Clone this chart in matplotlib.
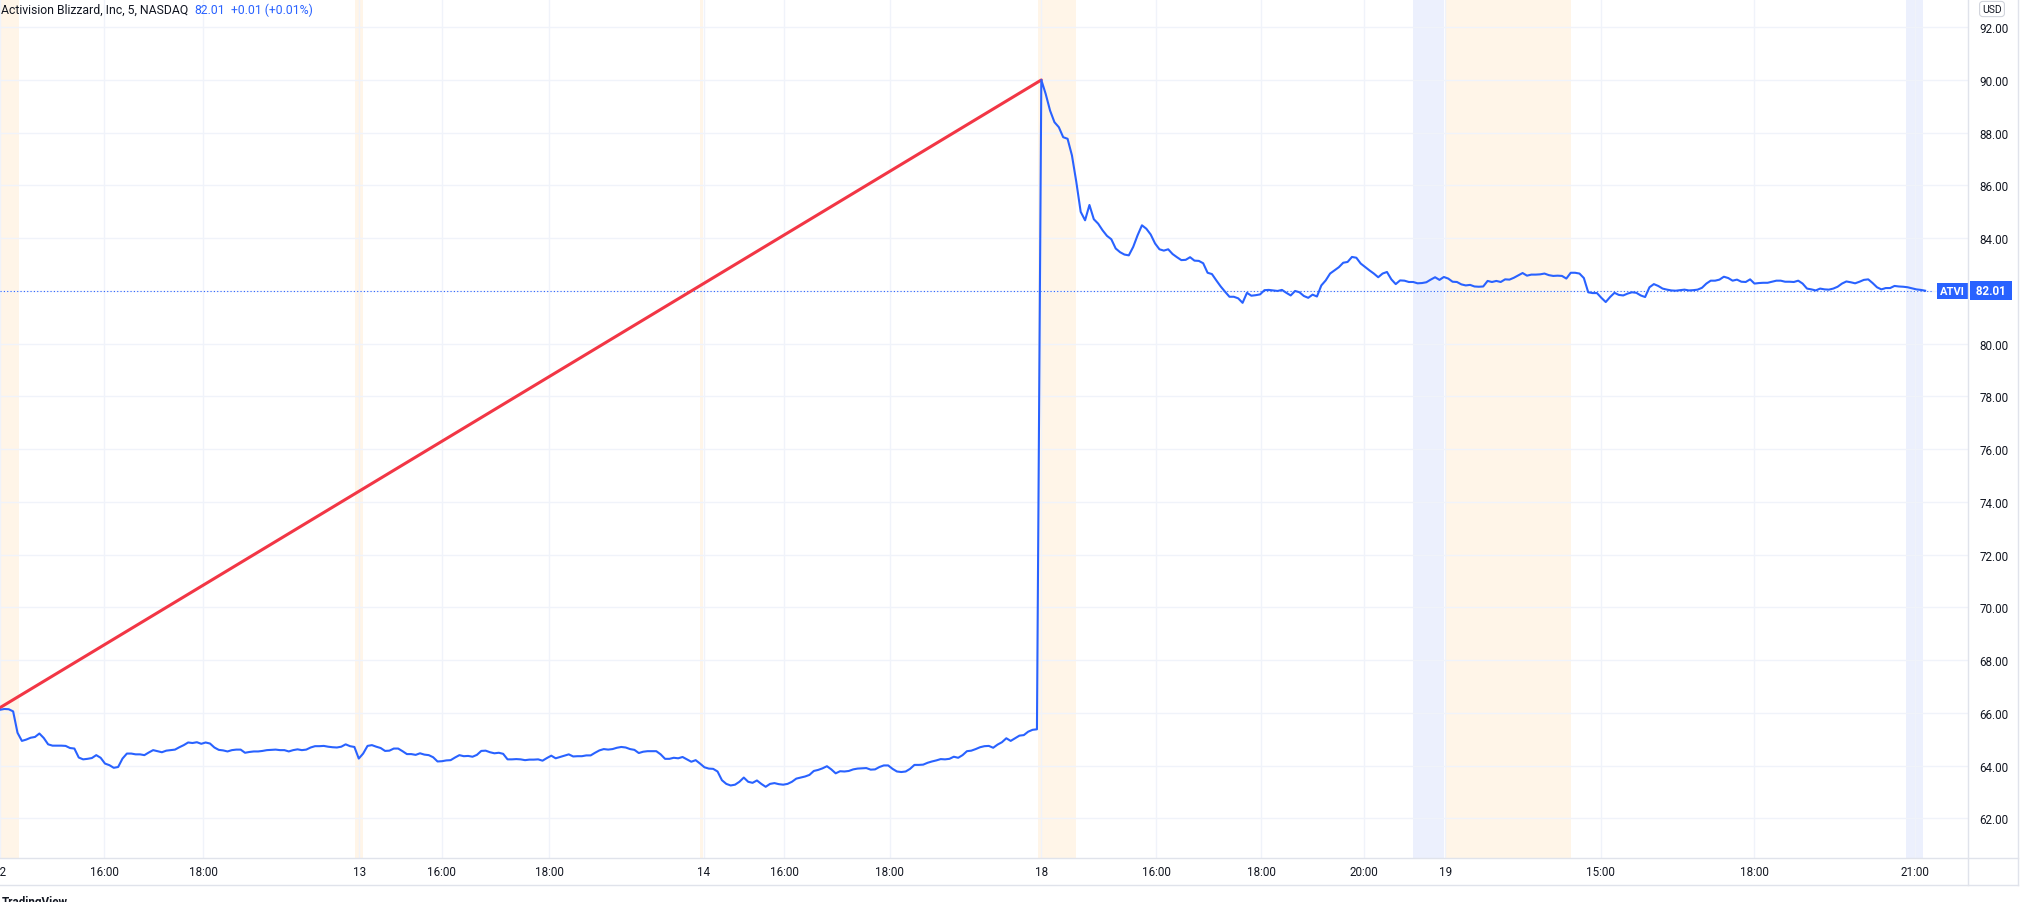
import numpy as np
import matplotlib.pyplot as plt
from matplotlib.lines import Line2D

W, H = 2027, 903
plt.rcParams['font.family'] = ['Roboto', 'DejaVu Sans']

TEXT = '#131722'
BLUE = '#2962FF'
RED = '#F23645'
GRID = '#F0F3FA'
BORDER = '#E0E3EB'

# ATVI 5-min closes, one value per bar
day12 = [66.12, 66.15, 66.14, 66.06, 65.25, 64.94, 64.99, 65.06, 65.09, 65.22,
         65.05, 64.81, 64.76, 64.76, 64.76, 64.75, 64.67, 64.65, 64.31, 64.24,
         64.26, 64.29, 64.40, 64.30, 64.08, 64.02, 63.92, 63.95, 64.27, 64.46,
         64.46, 64.43, 64.43, 64.40, 64.50, 64.59, 64.55, 64.51, 64.57, 64.59,
         64.61, 64.70, 64.78, 64.88, 64.86, 64.89, 64.83, 64.88, 64.84, 64.69,
         64.60, 64.58, 64.54, 64.59, 64.61, 64.61, 64.49, 64.52, 64.54, 64.54,
         64.56, 64.59, 64.60, 64.61, 64.59, 64.59, 64.54, 64.59, 64.62, 64.59,
         64.61, 64.69, 64.74, 64.74, 64.75, 64.72, 64.70, 64.69, 64.72, 64.81,
         64.74, 64.71]
day13 = [64.27, 64.46, 64.75, 64.78, 64.72, 64.67, 64.56, 64.57, 64.65, 64.65,
         64.55, 64.44, 64.44, 64.41, 64.47, 64.42, 64.40, 64.32, 64.16, 64.17,
         64.20, 64.21, 64.31, 64.40, 64.36, 64.37, 64.34, 64.41, 64.56, 64.57,
         64.51, 64.47, 64.49, 64.45, 64.24, 64.24, 64.25, 64.24, 64.21, 64.23,
         64.23, 64.24, 64.19, 64.29, 64.38, 64.28, 64.33, 64.38, 64.43, 64.35,
         64.36, 64.36, 64.39, 64.39, 64.49, 64.58, 64.63, 64.61, 64.63, 64.68,
         64.71, 64.69, 64.63, 64.60, 64.48, 64.53, 64.55, 64.55, 64.55, 64.43,
         64.26, 64.26, 64.30, 64.28, 64.33, 64.24, 64.15, 64.21, 64.08]
day14 = [63.94, 63.89, 63.88, 63.78, 63.45, 63.31, 63.25, 63.28, 63.39, 63.55,
         63.39, 63.35, 63.44, 63.31, 63.20, 63.31, 63.34, 63.30, 63.28, 63.31,
         63.39, 63.51, 63.55, 63.59, 63.65, 63.80, 63.84, 63.90, 63.98, 63.86,
         63.71, 63.79, 63.78, 63.80, 63.86, 63.89, 63.90, 63.91, 63.85, 63.86,
         63.95, 64.01, 64.01, 63.88, 63.78, 63.76, 63.78, 63.88, 64.03, 64.03,
         64.04, 64.11, 64.16, 64.20, 64.25, 64.24, 64.26, 64.34, 64.30, 64.40,
         64.55, 64.57, 64.63, 64.70, 64.74, 64.75, 64.68, 64.80, 64.89, 65.04,
         64.94, 65.04, 65.14, 65.16, 65.29, 65.36, 65.38]
day18 = [90.00, 89.47, 88.84, 88.40, 88.21, 87.83, 87.77, 87.14, 86.13, 85.00,
         84.68, 85.26, 84.72, 84.55, 84.30, 84.09, 83.96, 83.61, 83.47, 83.38,
         83.35, 83.67, 84.11, 84.49, 84.36, 84.14, 83.80, 83.58, 83.53, 83.58,
         83.40, 83.28, 83.17, 83.18, 83.28, 83.15, 83.14, 83.05, 82.69, 82.64,
         82.40, 82.17, 81.97, 81.78, 81.78, 81.72, 81.55, 81.93, 81.82, 81.84,
         81.87, 82.03, 82.04, 82.02, 82.00, 82.04, 81.93, 81.83, 82.00, 81.95,
         81.81, 81.74, 81.86, 81.79, 82.21, 82.40, 82.66, 82.78, 82.90, 83.07,
         83.10, 83.29, 83.26, 83.04, 82.91, 82.78, 82.66, 82.52, 82.66, 82.72,
         82.44, 82.26, 82.40, 82.39, 82.34, 82.34, 82.29, 82.30, 82.33, 82.43,
         82.52, 82.42]
day19 = [82.53, 82.47, 82.35, 82.34, 82.25, 82.21, 82.23, 82.17, 82.16, 82.17,
         82.38, 82.34, 82.38, 82.34, 82.44, 82.43, 82.50, 82.59, 82.68, 82.58,
         82.62, 82.62, 82.63, 82.66, 82.60, 82.57, 82.58, 82.57, 82.47, 82.69,
         82.69, 82.66, 82.49, 81.95, 81.92, 81.92, 81.74, 81.58, 81.77, 81.93,
         81.85, 81.83, 81.90, 81.95, 81.93, 81.83, 81.77, 82.14, 82.26, 82.19,
         82.09, 82.05, 82.02, 82.01, 82.03, 82.05, 82.02, 82.03, 82.05, 82.12,
         82.28, 82.39, 82.39, 82.43, 82.54, 82.49, 82.39, 82.43, 82.35, 82.34,
         82.44, 82.28, 82.30, 82.31, 82.31, 82.35, 82.39, 82.39, 82.35, 82.35,
         82.34, 82.39, 82.28, 82.09, 82.06, 82.02, 82.09, 82.06, 82.05, 82.09,
         82.16, 82.28, 82.36, 82.33, 82.29, 82.35, 82.42, 82.44, 82.30, 82.14,
         82.06, 82.11, 82.11, 82.19, 82.17, 82.16, 82.14, 82.10, 82.06, 82.04,
         82.01]

trend_x = [0, 238]
trend_y = [66.2, 90.0]
last_price = 82.01

tick_pos = [0, 23.8, 46.4, 82.1, 101, 125.5, 160.9, 179.2, 203.4,
            238, 264.2, 288.2, 311.8, 330.3, 365.9, 400.9, 437.7]
tick_labels = ['12', '16:00', '18:00', '13', '16:00', '18:00', '14', '16:00', '18:00',
               '18', '16:00', '18:00', '20:00', '19', '15:00', '18:00', '21:00']
premarket = [(-0.5, 4.3), (81.1, 83.0), (160.0, 160.7), (237.3, 245.9), (330.3, 359.1)]
postmarket = [(323.0, 330.0), (435.7, 439.5)]

close = np.array(day12 + day13 + day14 + day18 + day19)
bars = np.arange(len(close))


def fx(px):
    return px / W


def fy(py):
    return 1 - py / H


fig = plt.figure(figsize=(W / 100, H / 100), dpi=100)
ax = fig.add_axes([0, fy(859), fx(1968), 859 / H])
ax.set_xlim(0, 449.8)
ax.set_ylim(60.5, 93.07)

for a, b in premarket:
    ax.axvspan(a, b, color='#FFF5E8', lw=0, zorder=0)
for a, b in postmarket:
    ax.axvspan(a, b, color='#ECF0FD', lw=0, zorder=0)

yt = np.arange(62, 93, 2)
ax.set_yticks(yt)
ax.set_yticklabels([f'{v:.2f}' for v in yt])
ax.set_xticks(tick_pos)
ax.set_xticklabels(tick_labels)
ax.grid(True, color=GRID, lw=1, zorder=0.5)
ax.set_axisbelow(True)
for s in ax.spines.values():
    s.set_visible(False)
ax.yaxis.tick_right()
ax.tick_params(axis='y', length=0, pad=8, labelsize=8.4, labelcolor=TEXT)
ax.tick_params(axis='x', length=0, pad=5, labelsize=8.4, labelcolor=TEXT)

ax.plot(trend_x, trend_y, color=RED, lw=2.2, solid_capstyle='round', zorder=3)
ax.plot(bars, close, color=BLUE, lw=1.5, solid_joinstyle='round', zorder=4)
ax.plot([0, 441.8], [last_price, last_price], color=BLUE, lw=0.8,
        ls=(0, (1, 2)), zorder=2)

# last price labels
ax.text(0.9985, last_price, 'ATVI', transform=ax.get_yaxis_transform(),
        ha='right', va='center', color='white', fontsize=8, fontweight='bold',
        bbox=dict(boxstyle='square,pad=0.28', fc=BLUE, ec='none'), zorder=6)
ax.text(1.0025, last_price, ' 82.01 ', transform=ax.get_yaxis_transform(),
        ha='left', va='center', color='white', fontsize=8.4, fontweight='bold',
        bbox=dict(boxstyle='square,pad=0.28', fc=BLUE, ec='none'),
        clip_on=False, zorder=6)

# pane borders
fig.add_artist(Line2D([fx(1968)] * 2, [fy(0), fy(886)], color=BORDER, lw=1))
fig.add_artist(Line2D([fx(2018)] * 2, [fy(0), fy(886)], color=BORDER, lw=1))
fig.add_artist(Line2D([0, fx(2018)], [fy(859)] * 2, color=BORDER, lw=1))
fig.add_artist(Line2D([0, fx(2018)], [fy(886)] * 2, color=BORDER, lw=1))

fig.text(fx(1992), fy(10), 'USD', ha='center', va='center', fontsize=7.5, color=TEXT,
         bbox=dict(boxstyle='round,pad=0.25,rounding_size=0.3', fc='white', ec='#D1D4DC', lw=0.8))

fig.text(fx(1), fy(10), 'Activision Blizzard, Inc, 5, NASDAQ', ha='left', va='center',
         fontsize=8.8, color=TEXT)
fig.text(fx(194), fy(10), '82.01', ha='left', va='center', fontsize=8.8, color=BLUE)
fig.text(fx(231), fy(10), '+0.01 (+0.01%)', ha='left', va='center', fontsize=8.8, color=BLUE)

fig.text(fx(2), fy(896), 'TradingView', ha='left', va='top', fontsize=8.4,
         fontweight='bold', color=TEXT)

fig.savefig('out.png', dpi=100, facecolor='white')
